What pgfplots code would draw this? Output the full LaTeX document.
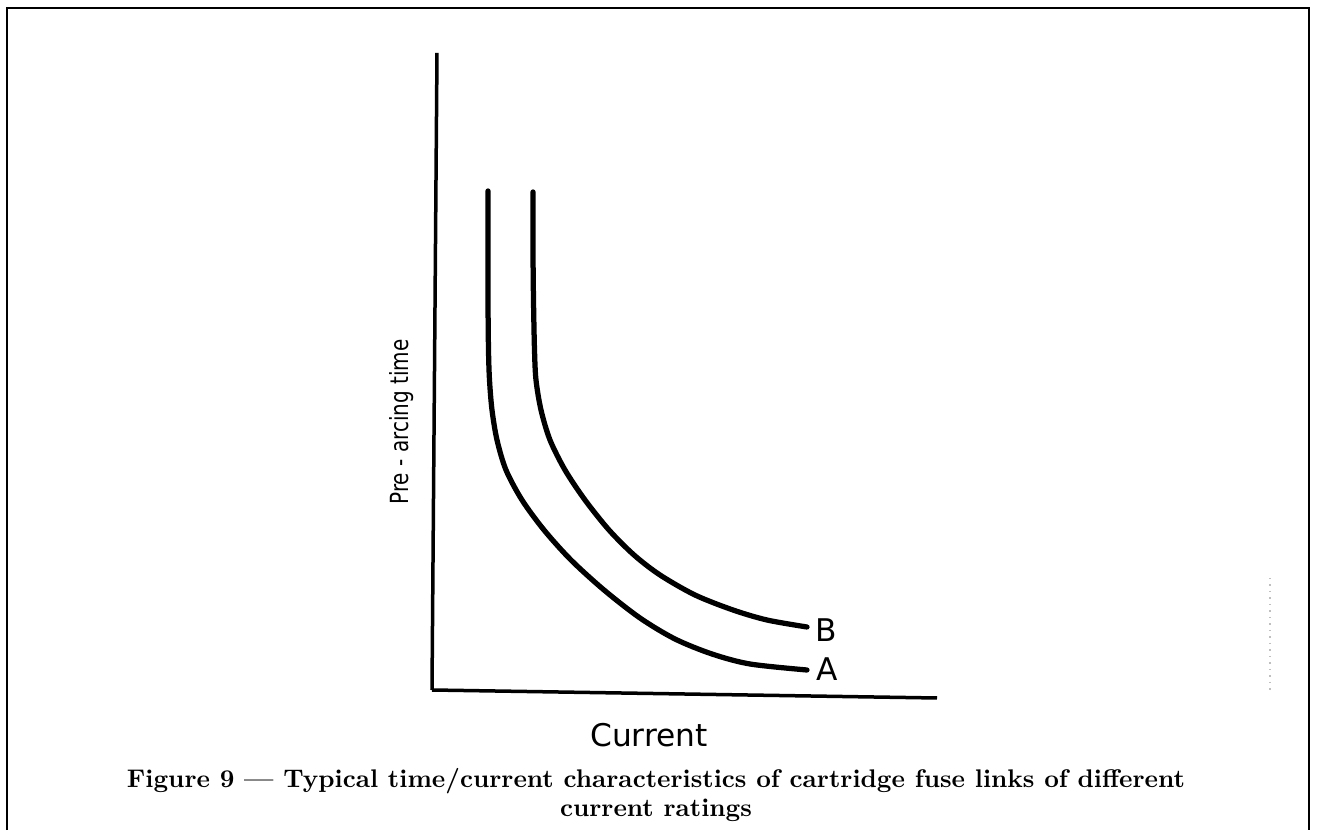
\documentclass[border=0pt]{standalone}
\usepackage{pgfplots}
\pgfplotsset{compat=1.18}
\usepackage{fontspec}
\newfontfamily\lbl{DejaVu Sans}
\begin{document}
\begin{tikzpicture}
\begin{axis}[x=0.4pt, y=0.4pt, xmin=432, xmax=937, ymin=-690, ymax=-53,
  hide axis, clip=false]
% invisible page extent
\path (axis cs:0,0) rectangle (axis cs:1317,-830);
% frame
\draw[line width=0.8pt] (axis cs:7,-830) -- (axis cs:7,-8) -- (axis cs:1309,-8) -- (axis cs:1309,-830);
% axes
\addplot[black, line width=1.4pt] coordinates {(437,-53) (432,-690)};
\addplot[black, line width=1.4pt] coordinates {(432,-690) (937,-698)};
% curve A
\addplot[black, line width=2.1pt, smooth, line cap=round] coordinates {
(488,-191) (488,-250) (488,-300) (488.5,-350) (489.5,-380) (492,-410) (497,-440)
(506,-470) (522,-500) (544,-530) (571,-560) (604,-590) (640,-618) (675,-639)
(712,-654) (750,-664) (807,-670)};
% curve B
\addplot[black, line width=2.1pt, smooth, line cap=round] coordinates {
(533,-192) (533,-250) (533.5,-300) (534.5,-350) (536,-380) (541,-410) (550,-440)
(565,-470) (585,-500) (609,-530) (634,-555) (660,-575) (695,-595) (733,-610)
(767,-620) (807,-627)};
% scan artifact
\addplot[gray!50, line width=0.6pt, dotted] coordinates {(1270,-578) (1270,-692)};
\node[font=\lbl\fontsize{12.5}{14}\selectfont] at (axis cs:826,-630) {B};
\node[font=\lbl\fontsize{12.5}{14}\selectfont] at (axis cs:827,-669) {A};
\node[font=\lbl\fontsize{12.5}{14}\selectfont] at (axis cs:649,-735) {Current};
\node[font=\lbl\fontsize{10}{12}\selectfont, rotate=90, xscale=0.8] at (axis cs:402,-422) {Pre - arcing time};
\node[font=\bfseries\fontsize{10.2}{12}\selectfont] at (axis cs:656,-781) {Figure 9 --- Typical time/current characteristics of cartridge fuse links of different};
\node[font=\bfseries\fontsize{10.2}{12}\selectfont] at (axis cs:656,-810) {current ratings};
\end{axis}
\end{tikzpicture}
\end{document}
